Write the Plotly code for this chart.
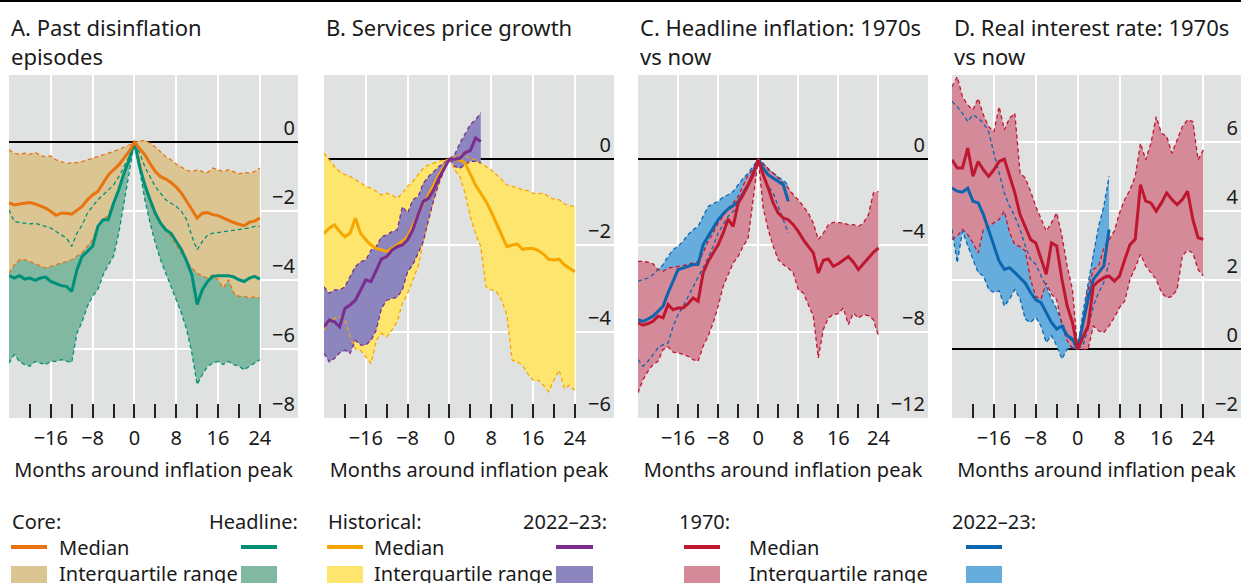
import plotly.graph_objects as go

# ---------------- data ----------------
months = list(range(-24, 25))
months_recent = list(range(-24, 7))

# Panel A: past disinflation episodes
a_core_med = [-1.76,-1.82,-1.79,-1.77,-1.75,-1.79,-1.85,-1.91,-2.01,-2.12,-2.06,-2.06,-2.09,-1.98,-1.86,-1.67,-1.53,-1.43,-1.19,-0.95,-0.80,-0.66,-0.46,-0.27,0.0,
              -0.17,-0.37,-0.62,-0.85,-1.00,-1.07,-1.17,-1.30,-1.48,-1.70,-1.95,-2.20,-2.06,-2.04,-2.10,-2.13,-2.20,-2.27,-2.33,-2.38,-2.42,-2.32,-2.29,-2.20]
a_core_hi = [-0.22,-0.32,-0.35,-0.32,-0.35,-0.30,-0.37,-0.43,-0.40,-0.51,-0.56,-0.63,-0.59,-0.59,-0.56,-0.51,-0.46,-0.42,-0.37,-0.32,-0.27,-0.22,-0.14,-0.08,0.0,
             0.04,0.05,-0.03,-0.14,-0.27,-0.42,-0.51,-0.63,-0.72,-0.82,-0.85,-0.80,-0.85,-0.88,-0.75,-0.80,-0.85,-0.80,-0.85,-0.92,-0.88,-0.90,-0.85,-0.75]
a_core_lo = [-3.80,-3.56,-3.41,-3.41,-3.46,-3.53,-3.60,-3.65,-3.60,-3.56,-3.51,-3.46,-3.41,-3.31,-3.20,-3.02,-2.83,-2.44,-2.25,-2.11,-1.77,-1.38,-0.90,-0.42,0.0,
             -0.51,-1.29,-1.77,-2.15,-2.35,-2.54,-2.73,-2.98,-3.22,-3.46,-3.65,-3.80,-3.89,-3.94,-3.85,-3.99,-4.23,-3.99,-4.38,-4.47,-4.47,-4.52,-4.49,-4.52]
a_head_med = [-3.87,-3.94,-3.87,-3.97,-3.94,-4.01,-3.94,-3.91,-4.04,-4.11,-4.16,-4.18,-4.33,-3.70,-3.31,-3.17,-3.02,-2.44,-2.25,-2.25,-1.77,-1.38,-0.90,-0.51,0.0,
              -0.71,-1.24,-1.67,-2.06,-2.35,-2.54,-2.64,-2.88,-3.12,-3.45,-3.85,-4.71,-4.28,-4.04,-3.89,-3.87,-3.87,-3.87,-3.91,-3.99,-4.04,-3.94,-3.89,-3.97]
a_head_hi = [-1.96,-2.30,-2.33,-2.35,-2.37,-2.35,-2.40,-2.44,-2.49,-2.59,-2.69,-2.78,-3.02,-2.64,-2.40,-2.06,-1.86,-1.67,-1.53,-1.38,-1.24,-1.00,-0.71,-0.42,0.0,
             -0.32,-0.71,-1.00,-1.29,-1.48,-1.67,-1.77,-1.86,-2.01,-2.25,-2.73,-3.12,-2.88,-2.69,-2.64,-2.62,-2.60,-2.59,-2.56,-2.54,-2.52,-2.49,-2.44,-2.44]
a_head_lo = [-6.41,-6.16,-6.36,-6.45,-6.50,-6.36,-6.41,-6.45,-6.36,-6.36,-6.31,-6.36,-6.39,-5.54,-5.20,-4.76,-4.47,-4.28,-3.85,-3.56,-3.31,-2.64,-1.77,-0.80,0.0,
             -0.80,-1.67,-2.35,-2.93,-3.41,-3.80,-4.18,-4.57,-4.96,-5.44,-6.12,-7.03,-6.74,-6.50,-6.41,-6.36,-6.45,-6.36,-6.45,-6.50,-6.60,-6.50,-6.41,-6.31]

# Panel B: services price growth
b_hist_med = [-1.72,-1.60,-1.52,-1.68,-1.80,-1.72,-1.37,-1.72,-1.87,-1.99,-2.07,-2.11,-2.14,-2.07,-1.99,-1.91,-1.80,-1.56,-1.29,-1.02,-0.83,-0.60,-0.36,-0.17,0.0,
              0.0,-0.02,-0.09,-0.33,-0.60,-0.79,-0.98,-1.22,-1.49,-1.72,-2.03,-1.99,-1.97,-2.09,-2.07,-2.07,-2.12,-2.20,-2.32,-2.34,-2.32,-2.45,-2.53,-2.61]
b_hist_hi = [0.14,-0.02,-0.17,-0.29,-0.36,-0.40,-0.48,-0.56,-0.63,-0.67,-0.75,-0.83,-0.79,-0.83,-0.91,-0.79,-0.63,-0.52,-0.36,-0.21,-0.13,-0.09,-0.05,-0.02,0.0,
             0.06,0.10,0.08,0.02,-0.02,-0.09,-0.17,-0.25,-0.36,-0.48,-0.60,-0.63,-0.67,-0.71,-0.73,-0.79,-0.80,-0.79,-0.87,-0.93,-0.94,-1.04,-1.08,-1.10]
b_hist_lo = [-3.96,-3.77,-3.69,-3.65,-3.73,-4.12,-4.39,-4.43,-4.58,-4.74,-4.20,-4.04,-4.12,-3.96,-3.77,-3.34,-3.11,-2.80,-2.49,-1.91,-1.41,-0.94,-0.56,-0.25,0.0,
             -0.25,-0.40,-0.79,-1.33,-1.72,-2.03,-2.96,-3.03,-3.07,-3.27,-3.61,-4.66,-4.70,-4.78,-4.97,-5.12,-5.12,-5.24,-5.39,-5.12,-4.89,-5.32,-5.24,-5.36]
b_new_med = [-3.89,-3.73,-3.77,-3.89,-3.46,-3.38,-3.27,-3.03,-2.80,-2.84,-2.57,-2.32,-2.26,-2.11,-2.03,-1.99,-1.87,-1.64,-1.29,-0.98,-0.91,-0.71,-0.44,-0.21,0.0,
             0.0,0.02,0.15,0.20,0.49,0.41]
b_new_hi = [-2.96,-3.11,-3.03,-3.03,-2.96,-2.72,-2.49,-2.38,-2.34,-2.11,-2.03,-1.80,-1.76,-1.68,-1.64,-1.10,-1.25,-0.94,-0.87,-0.56,-0.40,-0.29,-0.17,-0.08,0.0,
            0.10,0.37,0.57,0.80,0.91,1.07]
b_new_lo = [-4.50,-4.70,-4.62,-4.49,-4.43,-4.50,-4.20,-4.31,-4.31,-4.20,-3.96,-3.46,-3.27,-3.23,-3.20,-3.03,-2.61,-2.45,-2.18,-1.91,-1.41,-0.94,-0.56,-0.25,0.0,
            -0.17,-0.21,-0.13,-0.05,-0.05,-0.09]

# Panel C: headline inflation, 1970s vs now
c_old_med = [-7.59,-7.70,-7.62,-7.52,-7.28,-7.36,-6.74,-6.98,-6.90,-6.90,-6.70,-6.44,-6.59,-5.28,-4.74,-4.35,-3.97,-3.43,-2.78,-3.12,-2.04,-1.65,-1.19,-0.73,0.0,
             -0.73,-1.34,-2.04,-2.50,-2.73,-2.81,-3.04,-3.35,-3.73,-4.04,-4.35,-5.28,-4.69,-4.63,-4.97,-4.85,-4.66,-4.51,-4.78,-5.12,-4.85,-4.58,-4.32,-4.12]
c_old_hi = [-4.74,-4.74,-4.78,-4.85,-5.12,-5.20,-5.05,-5.00,-4.97,-4.94,-4.89,-4.81,-4.74,-4.35,-3.81,-3.43,-2.96,-2.65,-2.27,-2.04,-1.73,-1.19,-0.73,-0.49,0.0,
            -0.22,-0.42,-0.65,-0.88,-1.11,-1.34,-1.65,-1.88,-2.19,-2.50,-2.96,-3.73,-3.43,-3.04,-2.93,-2.96,-2.96,-3.04,-3.04,-3.12,-2.96,-2.58,-1.57,-1.50]
c_old_lo = [-10.83,-10.22,-9.83,-9.52,-9.37,-8.83,-8.70,-8.95,-8.98,-9.06,-9.14,-9.29,-9.37,-8.67,-8.21,-7.59,-6.82,-5.90,-5.35,-4.81,-4.51,-4.04,-3.66,-1.88,0.0,
            -2.27,-3.27,-4.04,-4.66,-4.89,-5.05,-5.28,-6.05,-6.20,-6.74,-7.28,-9.21,-7.90,-7.36,-7.21,-7.16,-6.90,-7.67,-7.13,-7.36,-7.21,-7.25,-7.44,-8.21]
c_new_med = [-7.44,-7.52,-7.41,-7.28,-7.05,-6.82,-6.20,-5.66,-5.12,-5.05,-4.97,-4.89,-4.89,-3.97,-3.58,-3.19,-2.81,-2.53,-2.31,-2.16,-1.96,-1.57,-1.19,-0.65,0.0,
             -0.42,-0.73,-0.88,-1.03,-1.19,-1.96]
c_new_hi = [-5.66,-5.59,-5.51,-5.35,-5.12,-4.89,-4.51,-4.20,-4.04,-3.81,-3.50,-3.27,-3.12,-2.65,-2.19,-2.07,-1.96,-1.76,-1.65,-1.50,-1.19,-0.88,-0.65,-0.34,0.0,
            -0.19,-0.49,-0.65,-0.80,-0.99,-1.19]
c_new_lo = [-9.29,-9.60,-9.37,-9.06,-8.75,-8.60,-8.52,-7.75,-7.21,-6.82,-6.36,-5.90,-5.51,-5.05,-4.58,-4.04,-3.43,-3.04,-2.65,-2.42,-2.19,-1.57,-1.11,-0.57,0.0,
            -0.73,-1.27,-1.57,-2.19,-2.73,-3.43]

# Panel D: real interest rate, 1970s vs now
d_old_med = [5.49,5.25,5.25,5.83,5.01,5.44,5.20,5.01,5.20,5.44,5.51,5.01,4.53,3.90,3.52,3.18,3.08,2.60,2.17,3.08,2.99,2.02,1.25,0.77,0.0,
             0.34,0.67,1.83,1.97,2.07,2.12,1.97,2.12,2.60,3.03,3.18,4.77,4.29,4.24,4.00,4.24,4.53,4.34,4.19,4.34,4.58,3.76,3.23,3.18]
d_old_hi = [7.61,7.90,7.32,7.08,6.94,7.27,6.79,6.45,6.31,7.03,6.36,6.70,6.84,5.11,4.96,4.58,4.14,3.76,3.42,3.66,3.95,3.28,2.41,1.73,0.0,
            0.77,1.73,2.31,2.41,2.94,3.18,3.42,3.95,4.34,4.62,5.01,5.97,5.49,5.97,6.74,6.26,6.17,5.68,6.07,6.45,6.65,6.60,5.49,5.78]
d_old_lo = [3.18,3.28,3.47,3.32,3.08,2.79,3.47,3.56,3.66,3.76,4.00,3.37,3.03,2.97,2.84,2.02,1.52,1.45,1.91,1.59,1.43,0.67,0.24,0.02,0.0,
            0.0,0.0,0.67,0.53,0.48,0.67,0.92,1.20,1.40,2.02,2.36,2.75,2.41,2.22,2.02,1.64,1.49,1.52,1.73,2.70,2.87,2.79,2.31,2.12]
d_new_med = [4.67,4.58,4.55,4.67,4.29,4.24,3.90,3.47,3.03,2.55,2.31,2.36,2.22,2.07,1.91,1.64,1.43,1.35,1.06,0.77,0.58,0.67,0.39,0.29,0.0,
             0.77,1.45,2.02,2.22,2.41,3.47]
d_new_hi = [7.18,7.03,6.84,6.60,6.79,6.70,6.55,6.31,5.68,5.11,4.53,4.14,3.85,3.47,2.99,2.60,2.46,2.12,1.83,1.45,1.16,0.77,0.43,0.19,0.0,
            1.06,1.93,2.79,3.56,4.14,5.01]
d_new_lo = [3.47,2.50,3.42,2.99,2.60,2.22,2.12,1.73,1.64,1.69,1.25,1.45,1.73,1.45,0.87,0.77,0.92,0.67,0.19,0.39,0.10,-0.29,0.0,0.05,0.0,
            0.10,0.58,1.25,1.64,1.93,2.50]

panel_titles = ["A. Past disinflation<br>episodes", "B. Services price growth",
                "C. Headline inflation: 1970s<br>vs now", "D. Real interest rate: 1970s<br>vs now"]
x_title = "Months around inflation peak"
major_ticks = [-16, -8, 0, 8, 16, 24]
minor_ticks = [-24, -20, -12, -4, 4, 12, 20]
y_ticks = [[-8, -6, -4, -2, 0], [-6, -4, -2, 0], [-12, -8, -4, 0], [-2, 0, 2, 4, 6]]

# ---------------- styling ----------------
W, H = 1241, 583
FONT = "Noto Sans"
TXT = "#1a1a1a"
BG = "#E0E1E1"

ORANGE, TAN = "#E8730F", "#DBC592"
TEAL, TEAL_F = "#00907A", "#80B8A1"
AMBER, YELLOW = "#F7A600", "#FEE56E"
PURPLE, PURPLE_F = "#7A2D8E", "#8C85BE"
RED, PINK = "#BF1730", "#D58A99"
BLUE, BLUE_F = "#0D65AE", "#66ADDD"


def px(x):
    return x / W


def py(y):
    return 1 - y / H


panels = [
    dict(dom=(9, 298), xr=[-24, 31.3], yr=[-8, 1.95],
         bands=[(months, a_head_med, a_head_hi, a_head_lo, TEAL, TEAL_F),
                (months, a_core_med, a_core_hi, a_core_lo, ORANGE, TAN)]),
    dict(dom=(324, 614), xr=[-24, 31.5], yr=[-6, 1.95],
         bands=[(months, b_hist_med, b_hist_hi, b_hist_lo, AMBER, YELLOW),
                (months_recent, b_new_med, b_new_hi, b_new_lo, PURPLE, PURPLE_F)]),
    dict(dom=(638, 928), xr=[-24, 33.9], yr=[-12, 3.9],
         bands=[(months_recent, c_new_med, c_new_hi, c_new_lo, BLUE, BLUE_F),
                (months, c_old_med, c_old_hi, c_old_lo, RED, PINK)]),
    dict(dom=(952, 1241), xr=[-24, 31.2], yr=[-2, 7.95],
         bands=[(months_recent, d_new_med, d_new_hi, d_new_lo, BLUE, BLUE_F),
                (months, d_old_med, d_old_hi, d_old_lo, RED, PINK)]),
]

fig = go.Figure()
layout = {}
annotations = []
shapes = []

for i, p in enumerate(panels):
    sfx = "" if i == 0 else str(i + 1)
    xa, ya = "x" + sfx, "y" + sfx
    # fills
    for (x, med, hi, lo, lc, fc) in p["bands"]:
        fig.add_trace(go.Scatter(x=list(x) + list(x)[::-1], y=list(hi) + list(lo)[::-1],
                                 fill="toself", fillcolor=fc, mode="none",
                                 xaxis=xa, yaxis=ya, showlegend=False, hoverinfo="skip"))
    # dashed quartile edges
    for (x, med, hi, lo, lc, fc) in p["bands"]:
        for edge in (hi, lo):
            fig.add_trace(go.Scatter(x=x, y=edge, mode="lines",
                                     line=dict(color=lc, width=1.3, dash="4px,3px"),
                                     xaxis=xa, yaxis=ya, showlegend=False, hoverinfo="skip"))
    # medians
    for (x, med, hi, lo, lc, fc) in p["bands"]:
        fig.add_trace(go.Scatter(x=x, y=med, mode="lines", line=dict(color=lc, width=3),
                                 xaxis=xa, yaxis=ya, showlegend=False))

    layout["xaxis" + sfx] = dict(
        domain=[px(p["dom"][0]), px(p["dom"][1])], range=p["xr"], anchor=ya,
        tickmode="array", tickvals=major_ticks, ticks="inside", ticklen=14, tickwidth=1.5,
        tickcolor="#222", showgrid=True, gridcolor="white", gridwidth=1.5, zeroline=False,
        showline=False, tickfont=dict(size=20, color=TXT, family=FONT), ticklabelstandoff=6,
        minor=dict(tickmode="array", tickvals=minor_ticks, ticks="inside", ticklen=14,
                   tickwidth=1.5, tickcolor="#222", showgrid=False),
        title=dict(text=x_title, font=dict(size=20, color=TXT, family=FONT), standoff=12),
        fixedrange=True)
    layout["yaxis" + sfx] = dict(
        domain=[py(418), py(75)], range=p["yr"], anchor=xa, side="right",
        tickmode="array", tickvals=y_ticks[i], ticks="", ticklabelposition="inside top",
        showgrid=True, gridcolor="white", gridwidth=1.5, zeroline=True, zerolinecolor="black",
        zerolinewidth=2, showline=False, tickfont=dict(size=20, color=TXT, family=FONT),
        fixedrange=True)
    annotations.append(dict(text=panel_titles[i], x=px(p["dom"][0]), y=py(10), xref="paper",
                            yref="paper", xanchor="left", yanchor="top", align="left",
                            showarrow=False, font=dict(size=22, color=TXT, family=FONT)))

# top rule
shapes.append(dict(type="line", xref="paper", yref="paper", x0=0, x1=1, y0=py(1), y1=py(1),
                   line=dict(color="black", width=2)))

# ---------------- legend (drawn as text + swatches) ----------------
def leg_text(t, x, y, anchor="left"):
    annotations.append(dict(text=t, x=px(x), y=py(y), xref="paper", yref="paper",
                            xanchor=anchor, yanchor="middle", showarrow=False,
                            font=dict(size=20, color=TXT, family=FONT)))


def leg_line(x0, x1, y, color):
    shapes.append(dict(type="line", xref="paper", yref="paper", x0=px(x0), x1=px(x1),
                       y0=py(y), y1=py(y), line=dict(color=color, width=4)))


def leg_box(x0, x1, y0, y1, color):
    shapes.append(dict(type="rect", xref="paper", yref="paper", x0=px(x0), x1=px(x1),
                       y0=py(y1), y1=py(y0), fillcolor=color, line=dict(width=0)))


R1, R2, R3 = 521, 547, 573
leg_text("Core:", 10, R1)
leg_text("Headline:", 300, R1, "right")
leg_line(11, 47, R2, ORANGE); leg_text("Median", 57, R2)
leg_line(241, 277, R2, TEAL)
leg_box(11, 47, 566, 584, TAN); leg_text("Interquartile range", 57, R3)
leg_box(241, 277, 566, 584, TEAL_F)

leg_text("Historical:", 326, R1)
leg_text("2022–23:", 609, R1, "right")
leg_line(327, 363, R2, AMBER); leg_text("Median", 372, R2)
leg_line(556, 593, R2, PURPLE)
leg_box(327, 363, 566, 584, YELLOW); leg_text("Interquartile range", 372, R3)
leg_box(556, 593, 566, 584, PURPLE_F)

leg_text("1970:", 677, R1)
leg_line(684, 720, R2, RED); leg_text("Median", 747, R2)
leg_box(684, 720, 566, 584, PINK); leg_text("Interquartile range", 747, R3)
leg_text("2022–23:", 950, R1)
leg_line(966, 1002, R2, BLUE)
leg_box(966, 1002, 566, 584, BLUE_F)

fig.update_layout(width=W, height=H, margin=dict(l=0, r=0, t=0, b=0),
                  paper_bgcolor="white", plot_bgcolor=BG, showlegend=False,
                  font=dict(family=FONT, color=TXT), annotations=annotations, shapes=shapes,
                  **layout)

fig.write_html("out.html", config={"displayModeBar": False},
               post_script="document.body.style.margin='0';document.body.style.overflow='hidden';")
